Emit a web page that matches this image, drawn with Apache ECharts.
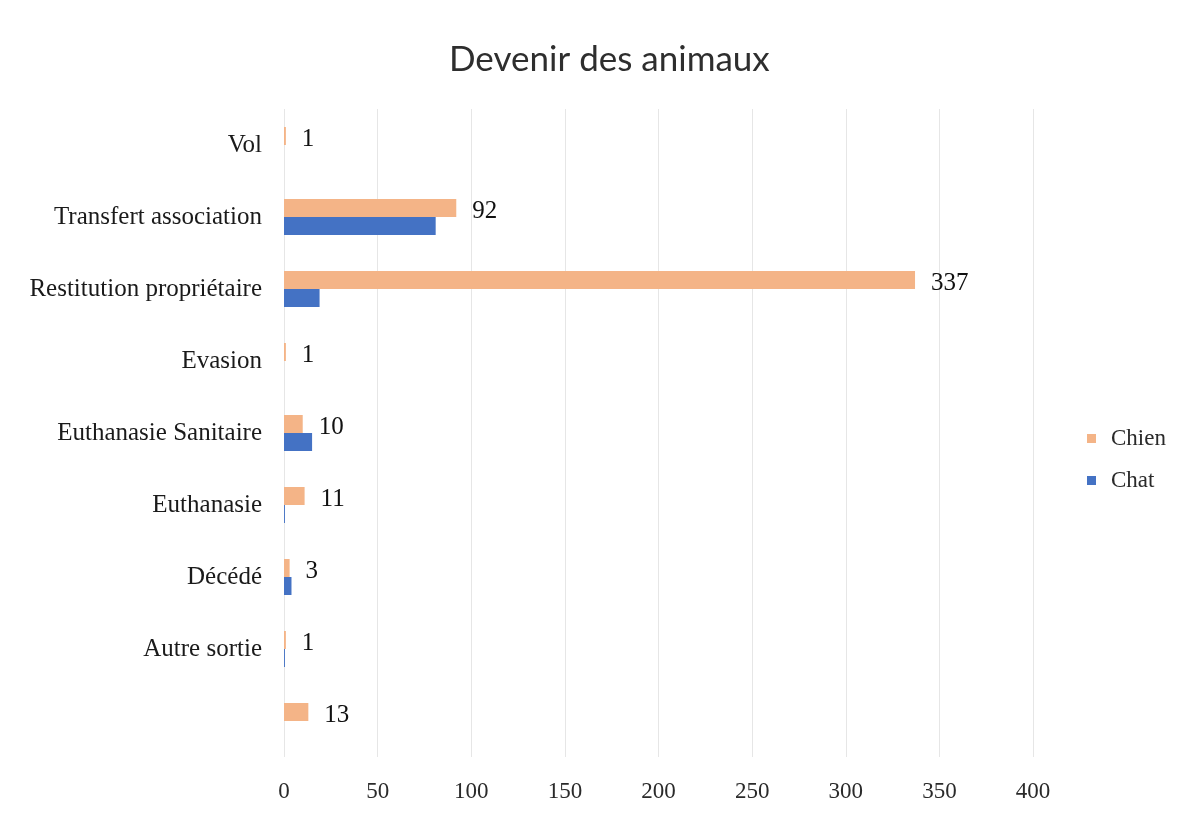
<!DOCTYPE html>
<html>
<head>
<meta charset="utf-8">
<script src="https://cdn.jsdelivr.net/npm/echarts@6/dist/echarts.min.js"></script>
<style>html,body{margin:0;padding:0;background:#fff;}#c{width:1186px;height:816px;}</style>
</head>
<body>
<div id="c"></div>
<script>
// Categories listed bottom to top (ECharts category y-axis starts at the bottom)
const categories = ['', 'Autre sortie', 'Décédé', 'Euthanasie', 'Euthanasie Sanitaire', 'Evasion', 'Restitution propriétaire', 'Transfert association', 'Vol'];
const chien = [13, 1, 3, 11, 10, 1, 337, 92, 1];
const chat = [0, 0.5, 4, 0.5, 15, 0, 19, 81, 0];
const xTicks = [0, 50, 100, 150, 200, 250, 300, 350, 400];

const serif = '"Liberation Serif", "DejaVu Serif", serif';
const chart = echarts.init(document.getElementById('c'));
chart.setOption({
  backgroundColor: '#ffffff',
  animation: false,
  title: {
    text: 'Devenir des animaux',
    left: 444,
    top: 37,
    textStyle: { fontFamily: 'Lato, "Open Sans", sans-serif', fontSize: 35, fontWeight: 'normal', color: '#2e2e2e' }
  },
  legend: {
    orient: 'vertical',
    left: 1082,
    top: 422,
    itemWidth: 9,
    itemHeight: 9,
    itemGap: 19,
    icon: 'rect',
    data: ['Chien', 'Chat'],
    textStyle: { fontFamily: serif, fontSize: 23, color: '#2a2a2a', padding: [0, 0, 0, 10] }
  },
  grid: { left: 284, right: 153, top: 109, bottom: 59, containLabel: false },
  xAxis: {
    type: 'value',
    min: xTicks[0],
    max: xTicks[xTicks.length - 1],
    interval: 50,
    axisLine: { show: false },
    axisTick: { show: false },
    splitLine: { show: true, lineStyle: { color: '#e6e6e6', width: 1 } },
    axisLabel: { margin: 23, fontFamily: serif, fontSize: 23, color: '#2a2a2a' }
  },
  yAxis: {
    type: 'category',
    data: categories,
    axisLine: { show: false },
    axisTick: { show: false },
    axisLabel: { margin: 22, fontFamily: serif, fontSize: 25, color: '#1a1a1a' }
  },
  series: [
    {
      name: 'Chien',
      type: 'bar',
      data: chien,
      barWidth: 18,
      barGap: '0%',
      itemStyle: { color: '#F4B487' },
      label: {
        show: true,
        position: 'right',
        distance: 16,
        offset: [0, 3],
        fontFamily: serif,
        fontSize: 25,
        color: '#111111'
      }
    },
    {
      name: 'Chat',
      type: 'bar',
      data: chat,
      barWidth: 18,
      itemStyle: { color: '#4472C4' }
    }
  ]
});
</script>
</body>
</html>
